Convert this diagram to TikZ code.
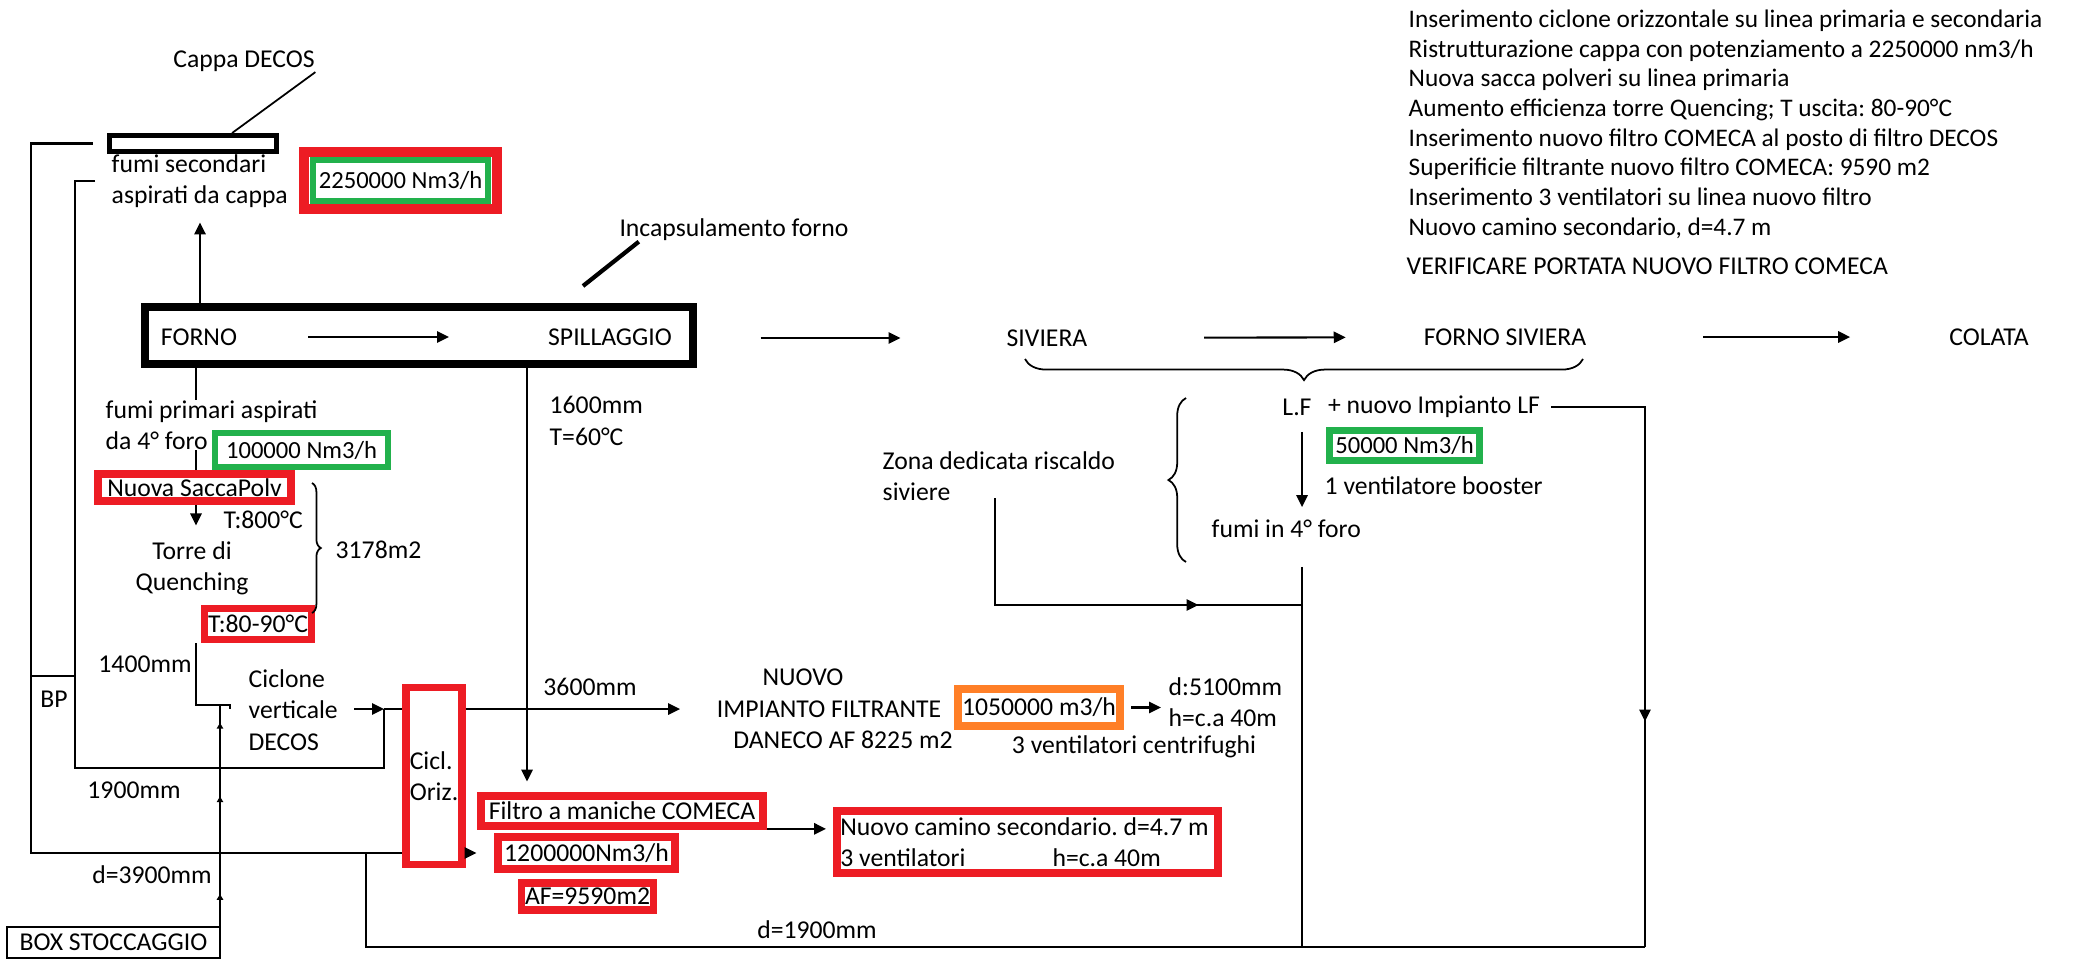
\documentclass[tikz,border=0pt]{standalone}
\usepackage{fontspec}
\setmainfont{Carlito}
\usepackage{tikz}
\usetikzlibrary{arrows.meta,calc,decorations.pathreplacing,decorations.markings}
\frenchspacing
\definecolor{paintred}{HTML}{ED1C24}
\definecolor{paintgreen}{HTML}{22B14C}
\definecolor{paintorange}{HTML}{FF7F27}
\newcommand{\dfont}{\fontsize{7.3}{8.9}\selectfont}
\newcommand{\nfont}{\fontsize{7}{8.4}\selectfont}
\tikzstyle{lbl} = [inner sep=0pt, align=left]
\tikzstyle{redbox} = [rectangle, draw=paintred, line width=2.2pt, fill=white, inner sep=1pt, align=left]
\tikzstyle{greenbox} = [rectangle, draw=paintgreen, line width=1.8pt, fill=white, inner sep=1pt, font=\nfont]
\tikzstyle{orangebox} = [rectangle, draw=paintorange, line width=2.4pt, fill=white, inner sep=1pt]
\tikzstyle{blackbox} = [rectangle, draw=black, inner sep=0pt]
\tikzstyle{pipe} = [line width=0.6pt]
\tikzstyle{arrow} = [-{Triangle[length=3.4pt,width=3.2pt]}, line width=0.6pt]
\tikzset{
  curly/.style={decorate, decoration={brace, amplitude=#1}, line width=0.5pt},
  flowmark/.style={postaction={decorate}, decoration={markings,
      mark=at position #1 with {\arrow{Triangle[length=3.4pt,width=3.2pt]}}}},
  upmarks/.style={postaction={decorate}, decoration={markings,
      mark=at position 0.144 with {\arrow{Triangle[length=1.6pt,width=1.8pt]}},
      mark=at position 0.586 with {\arrow{Triangle[length=1.6pt,width=1.8pt]}},
      mark=at position 0.919 with {\arrow{Triangle[length=1.6pt,width=1.8pt]}}}}
}

\begin{document}
\begin{tikzpicture}[x=0.01cm, y=-0.01cm, font=\dfont]
\useasboundingbox (0,0) rectangle (2089,960);

\node[blackbox, line width=1.4pt, minimum width=1.67cm, minimum height=0.16cm] (cappa) at (193,143.5) {};
\node[lbl] (cappalbl) at (244,61) {Cappa DECOS};
\node[lbl, anchor=west] (fumisec) at (111,181) {fumi secondari\\aspirati da cappa};
\node[greenbox, minimum width=1.75cm, minimum height=0.41cm] (vol2250) at (400.5,180.5) {2250000 Nm3/h};
\draw[paintred, line width=2.8pt] ([shift={(-6,5)}]vol2250.south west) rectangle ([shift={(6,-5)}]vol2250.north east);

\node[blackbox, line width=2.3pt, minimum width=5.48cm, minimum height=0.57cm] (forno) at (419,335.5) {};
\node[lbl] (fornotxt) at (199,337) {FORNO};
\node[lbl] (spill) at (610,337) {SPILLAGGIO};
\node[lbl] (siviera) at (1047,338) {SIVIERA};
\node[lbl] (fornosiv) at (1505,337) {FORNO SIVIERA};
\node[lbl] (colata) at (1989,337) {COLATA};
\node[lbl] (incaps) at (734,230) {Incapsulamento forno};

\node[redbox, minimum width=1.93cm, minimum height=0.27cm] (sacca) at (194.5,487.5) {Nuova SaccaPolv};
\coordinate (colx) at (196,0);
\draw[pipe] (forno.south -| colx) -- (sacca.north -| colx);
\node[lbl, anchor=west, fill=white] (fumipri) at (105,425) {fumi primari aspirati\\da 4° foro};
\node[greenbox, line width=1.7pt, minimum width=1.73cm, minimum height=0.34cm] (vol100) at (301.5,450) {100000 Nm3/h};
\node[lbl, anchor=west] (t800) at (223,520) {T:800°C};
\node[lbl, align=center] (torre) at (192,568) {Torre di\\Quenching};
\node[lbl, anchor=west] (area) at (335,550) {3178m2};
\node[redbox, minimum width=1.07cm, minimum height=0.31cm] (tq) at (258,624) {T:80-90°C};
\node[lbl] (l1400) at (145,664) {1400mm};
\node[lbl] (bp) at (54,699) {BP};
\node[lbl] (l1900) at (134,790) {1900mm};
\node[lbl] (l3900) at (152,875) {d=3900mm};
\node[blackbox, line width=0.6pt, minimum width=2.13cm, minimum height=0.31cm] (stock) at (113.5,942.5) {BOX STOCCAGGIO};
\node[lbl, anchor=west] (ciclone) at (248,710) {Ciclone\\verticale\\DECOS};
\node[redbox, minimum width=0.55cm, minimum height=1.77cm] (cicl) at (434,776) {Cicl.\\Oriz.};

\node[lbl] (l3600) at (590,687) {3600mm};
\node[lbl, anchor=west] (spillinfo) at (549,421) {1600mm\\T=60°C};
\node[redbox, minimum width=2.82cm, minimum height=0.30cm] (filtro) at (622,811) {Filtro a maniche COMECA};
\node[redbox, minimum width=1.77cm, minimum height=0.32cm] (portcom) at (586.5,853) {1200000Nm3/h};
\node[redbox, minimum width=1.31cm, minimum height=0.27cm] (afcom) at (587.5,896.5) {AF=9590m2};
\node[redbox, minimum height=0.62cm] (camino) at (1027.5,842) {\makebox[3.74cm][l]{Nuovo camino secondario. d=4.7 m}\\\makebox[2.12cm][l]{3 ventilatori}h=c.a 40m};
\node[lbl, align=center] (impianto) at (829,709) {NUOVO\hspace*{0.52cm}\\IMPIANTO FILTRANTE\\\hspace*{0.28cm}DANECO AF 8225 m2};
\node[orangebox, minimum width=1.62cm, minimum height=0.37cm] (vol1050) at (1039,707.5) {1050000 m3/h};
\node[lbl, anchor=west] (dh) at (1168,702) {d:5100mm\\h=c.a 40m};
\node[lbl] (vent3) at (1134,747) {3 ventilatori centrifughi};
\node[lbl] (d1900) at (817,930) {d=1900mm};

\node[lbl, anchor=west] (zona) at (882,476) {Zona dedicata riscaldo\\siviere};
\node[lbl] (lf) at (1297,407) {L.F};
\node[lbl] (lfnew) at (1434,407) {+ nuovo Impianto LF};
\node[greenbox, line width=2pt, minimum width=1.50cm, minimum height=0.30cm] (vol50) at (1404.5,445.5) {50000 Nm3/h};
\node[lbl, anchor=west] (booster) at (1324,486) {1 ventilatore booster};
\node[lbl, anchor=west] (fumi4) at (1211,529) {fumi in 4° foro};

\node[lbl, anchor=north west, font=\fontsize{7.2}{8.45}\selectfont] (notes) at (1408,9) {Inserimento ciclone orizzontale su linea primaria e secondaria\\Ristrutturazione cappa con potenziamento a 2250000 nm3/h\\Nuova sacca polveri su linea primaria\\Aumento efficienza torre Quencing; T uscita: 80-90°C\\Inserimento nuovo filtro COMECA al posto di filtro DECOS\\Superificie filtrante nuovo filtro COMECA: 9590 m2\\Inserimento 3 ventilatori su linea nuovo filtro\\Nuovo camino secondario, d=4.7 m};
\node[lbl, anchor=west] (verify) at (1406,266) {VERIFICARE PORTATA NUOVO FILTRO COMECA};

\coordinate (upx) at (200,0);
\coordinate (dropx) at (527,0);
\coordinate (lfx) at (1302,0);
\coordinate (pcorner) at (31,853);
\coordinate (bpjoin) at (31,676);
\coordinate (scorner) at (75,768);
\coordinate (sjoin) at (384,709);
\coordinate (cyc) at (220,705);
\coordinate (jprim) at (366,853);
\coordinate (rcorner) at (1645,947);
\coordinate (jzona) at (1302,605);
\coordinate (zonaout) at (995,498);
\coordinate (incapsfoot) at (583,286);

\draw[line width=0.5pt] (cappalbl.south east) -- (cappa.15);
\draw[line width=1.2pt] (incaps.187) -- (incapsfoot);
\draw[arrow, shorten >=4pt] (forno.north -| upx) -- (fumisec.south -| upx);
\draw[arrow, shorten <=20pt, shorten >=28pt] (fornotxt) -- (spill);
\draw[arrow, shorten <=18pt, shorten >=30pt] (forno.east |- siviera) -- (siviera);
\draw[arrow, shorten <=33pt, shorten >=22pt] (siviera) -- (fornosiv);
\draw[arrow, shorten <=33pt, shorten >=28pt] (fornosiv) -- (colata);

\draw[arrow, shorten >=4.3pt] (sacca.south -| colx) -- (torre.north -| colx);
\draw[curly=2.5pt] (312,483) -- (312,613);
\draw[pipe] (tq.south -| colx) -- (colx |- cyc) -- ++(34,0) -- ++(0,4);
\draw[pipe, upmarks] (stock.north east -| cyc) -- (cyc);

\draw[pipe, shorten <=4pt] (cappa.west) -| (pcorner) -- (cicl.west |- portcom);
\draw[pipe] (bpjoin) -- (bpjoin -| scorner);
\draw[pipe, shorten <=4.5pt] (fumisec.west) -| (scorner) -| (sjoin);
\draw[arrow, shorten <=4.5pt] (ciclone.east |- sjoin) -- (sjoin);
\draw[pipe] (sjoin) -- (cicl.west |- sjoin);
\draw[arrow, shorten >=7pt] (cicl.east |- sjoin) -- (impianto.west |- sjoin);
\draw[arrow, shorten >=3pt] (forno.south -| dropx) -- (filtro.north -| dropx);
\draw[arrow, shorten >=5pt] (cicl.east |- portcom) -- (portcom.west);
\draw[arrow, shorten >=2pt] (filtro.-7) -- (filtro.-7 -| camino.west);
\draw[arrow, shorten <=2pt, shorten >=2pt] (vol1050.east) -- (vol1050.east -| dh.west);

\draw[curly=6pt] (1583,359) -- (1025,359);
\draw[curly=5pt] (1186,562) -- (1186,398);
\draw[arrow, shorten <=4.5pt, shorten >=3.5pt] (lf.south -| lfx) -- (fumi4.north -| lfx);
\draw[pipe, shorten <=8pt] (fumi4.south -| lfx) -- (lfx |- rcorner);
\draw[pipe, flowmark=0.75] (zonaout) |- (jzona);
\draw[pipe, shorten <=3pt, flowmark=0.65] (lfnew.east) -| (rcorner);
\draw[pipe] (rcorner) -| (jprim);
\end{tikzpicture}
\end{document}
